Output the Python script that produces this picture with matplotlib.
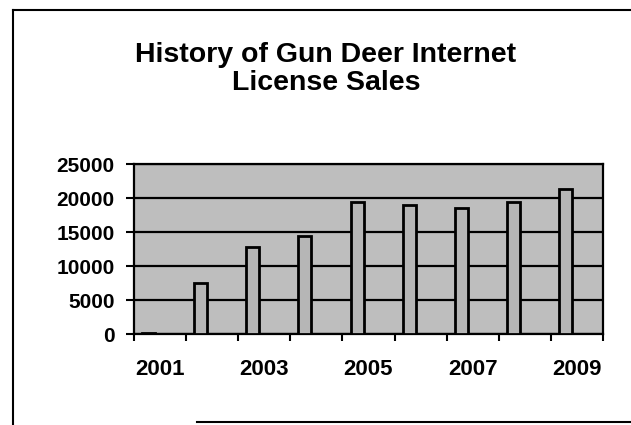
import matplotlib.pyplot as plt
from matplotlib.lines import Line2D

# data
years = [2001, 2002, 2003, 2004, 2005, 2006, 2007, 2008, 2009]
sales = [200, 7450, 12800, 14400, 19400, 18900, 18600, 19400, 21300]
shown_years = ['2001', '2003', '2005', '2007', '2009']
y_ticks = [0, 5000, 10000, 15000, 20000, 25000]

plt.rcParams['font.family'] = ['Liberation Sans', 'DejaVu Sans']

W, H = 631, 425
fig = plt.figure(figsize=(W / 100, H / 100), dpi=100)
ax = fig.add_axes([134 / W, 1 - 334 / H, (603 - 134) / W, (334 - 164) / H])
ax.set_facecolor('#bebebe')

x = list(range(len(years)))
ax.set_axisbelow(True)
ax.yaxis.grid(True, color='black', linewidth=1.6)
ax.bar([i - 0.22 for i in x], sales, width=0.25, color='#b6b6b6',
       edgecolor='black', linewidth=2, zorder=3)

ax.set_xlim(-0.5, len(years) - 0.5)
ax.set_ylim(0, 25000)
ax.set_yticks(y_ticks)
ax.set_yticklabels([str(v) for v in y_ticks], fontsize=15, fontweight='bold')
ax.tick_params(axis='y', length=6, width=1.5, pad=8)

ax.set_xticks(x[::2])
ax.set_xticklabels(shown_years, fontsize=16, fontweight='bold')
ax.set_xticks([i - 0.5 for i in range(len(years) + 1)], minor=True)
ax.tick_params(axis='x', which='major', length=0, pad=18)
ax.tick_params(axis='x', which='minor', length=5, width=1.5)

for s in ax.spines.values():
    s.set_color('black')
    s.set_linewidth(1.6)

fig.text(326 / W, 1 - 69 / H, 'History of Gun Deer Internet\nLicense Sales',
         ha='center', va='center', fontsize=20.5, fontweight='bold',
         linespacing=1.15)

# chart frame (partially visible in the scan)
def px_line(x0, y0, x1, y1):
    fig.add_artist(Line2D([x0 / W, x1 / W], [1 - y0 / H, 1 - y1 / H],
                          color='black', linewidth=1.5))

px_line(13, 10, W, 10)
px_line(13, 10, 13, H)
px_line(197, 422, W, 422)

fig.savefig('out.png', dpi=100)
